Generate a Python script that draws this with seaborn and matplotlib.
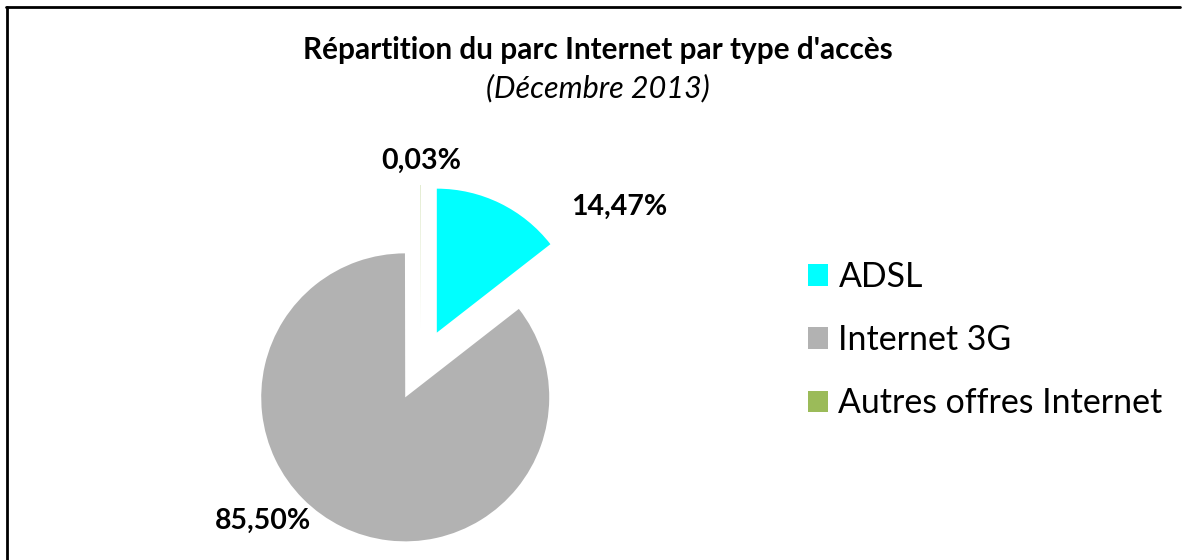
import matplotlib
matplotlib.use("Agg")
import matplotlib.pyplot as plt
import seaborn as sns
from matplotlib.lines import Line2D

# data
categories = ["ADSL", "Internet 3G", "Autres offres Internet"]
shares = [14.47, 85.50, 0.03]
share_labels = ["14,47%", "85,50%", "0,03%"]
colors = ["#00FFFF", "#B2B2B2", "#9BBB59"]

sns.set_style("white")
plt.rcParams["font.family"] = ["Lato", "DejaVu Sans"]

fig = plt.figure(figsize=(11.88, 5.6), dpi=100)

# pie axes: 1 unit = 144 px, centre at (421, 365) px
ax = fig.add_axes([205 / 1188, (560 - 581) / 560, 432 / 1188, 432 / 560])
wedges, texts = ax.pie(shares, colors=colors, startangle=90, counterclock=False,
                       explode=[0.25, 0.25, 0.25], radius=1,
                       wedgeprops={"linewidth": 0})
ax.set_xlim(-1.5, 1.5)
ax.set_ylim(-1.5, 1.5)
ax.set_aspect("equal")
ax.axis("off")

# data labels (offsets in data units from the pie centre)
label_pos = [(1.38, 1.10), (-1.10, -1.08), (0.0, 1.42)]
for lab, (x, y) in zip(share_labels, label_pos):
    ax.text(x, y, lab, ha="center", va="center", fontsize=20.5,
            fontweight="bold", color="black", clip_on=False)

fig.text(0.503, 0.91, "Répartition du parc Internet par type d'accès",
         ha="center", va="center", fontsize=21.4, fontweight="bold", color="black")
fig.text(0.503, 0.842, "(Décembre 2013)", ha="center", va="center",
         fontsize=22, style="italic", color="black")

leg = fig.legend(wedges, categories, loc="upper left",
                 bbox_to_anchor=(808 / 1188, 1 - 261 / 560), frameon=False,
                 fontsize=24.4, handlelength=0.6, handleheight=0.6,
                 handletextpad=0.3, labelspacing=0.92, labelcolor="black",
                 borderpad=0, borderaxespad=0)

# chart border (top and left visible)
fig.add_artist(Line2D([6 / 1188, 1180 / 1188], [1 - 7 / 560, 1 - 7 / 560],
                      color="black", linewidth=2, transform=fig.transFigure))
fig.add_artist(Line2D([7 / 1188, 7 / 1188], [0, 1 - 7 / 560],
                      color="black", linewidth=2, transform=fig.transFigure))

fig.savefig("out.png", dpi=100)
